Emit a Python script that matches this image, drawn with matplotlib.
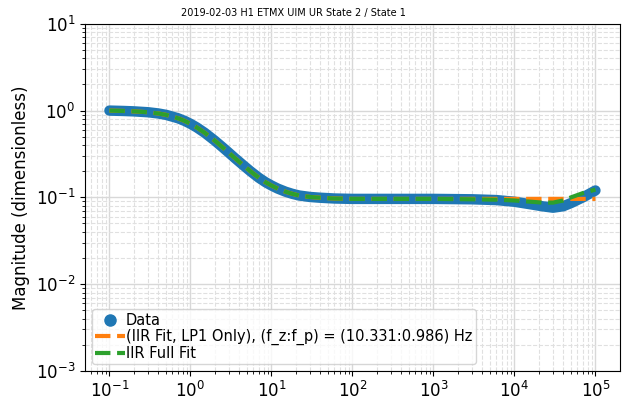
import numpy as np
import matplotlib
matplotlib.use("Agg")
import matplotlib.pyplot as plt

# values
freq = [0.1, 0.15, 0.2, 0.3, 0.4, 0.5, 0.7, 0.85, 1.0, 1.2, 1.5, 2.0, 2.5, 3.0,
        3.5, 4.5, 5.5, 7.0, 8.5, 10.0, 12.0, 15.0, 18.0, 22.0, 30.0, 40.0, 60.0,
        100.0, 1e3, 3e3, 6e3, 1e4, 1.6e4, 2.2e4, 3e4, 4e4, 5e4, 7e4, 1e5]
mag_data = [1.0, 0.99, 0.98, 0.957, 0.927, 0.893, 0.817, 0.76, 0.705, 0.639,
            0.555, 0.45, 0.377, 0.325, 0.286, 0.234, 0.2, 0.168, 0.149, 0.137,
            0.126, 0.116, 0.11, 0.105, 0.101, 0.099, 0.097, 0.096, 0.096, 0.095,
            0.093, 0.089, 0.083, 0.079, 0.076, 0.079, 0.086, 0.100, 0.120]
mag_lp1 = [1.0, 0.99, 0.98, 0.957, 0.927, 0.893, 0.817, 0.76, 0.705, 0.639,
           0.555, 0.45, 0.377, 0.325, 0.286, 0.234, 0.2, 0.168, 0.149, 0.137,
           0.126, 0.116, 0.11, 0.105, 0.101, 0.099, 0.097, 0.096, 0.096, 0.096,
           0.096, 0.096, 0.096, 0.096, 0.096, 0.096, 0.096, 0.096, 0.096]
mag_full = [1.0, 0.99, 0.98, 0.957, 0.927, 0.893, 0.817, 0.76, 0.705, 0.639,
            0.555, 0.45, 0.377, 0.325, 0.286, 0.234, 0.2, 0.168, 0.149, 0.137,
            0.126, 0.116, 0.11, 0.105, 0.101, 0.099, 0.097, 0.096, 0.096, 0.095,
            0.094, 0.092, 0.089, 0.087, 0.087, 0.092, 0.100, 0.112, 0.123]

title = "2019-02-03 H1 ETMX UIM UR State 2 / State 1"
fz, fp = 10.331, 0.986

fig = plt.figure(figsize=(6.26, 4.04), dpi=100)
ax = fig.add_axes([0.136, 0.082, 0.854, 0.859])

ax.loglog(freq, mag_data, '-', color='C0', lw=7.5, solid_capstyle='round')
data_handle, = ax.loglog([], [], 'o', color='C0', ms=8, label='Data')
ax.loglog(freq, mag_lp1, '--', color='C1', lw=3,
          label='(IIR Fit, LP1 Only), (f_z:f_p) = (%.3f:%.3f) Hz' % (fz, fp))
ax.loglog(freq, mag_full, '--', color='C2', lw=3, label='IIR Full Fit')

ax.set_ylim(1e-3, 10)
ax.grid(True, which='major', color='#d8d8d8', lw=1, ls='-')
ax.grid(True, which='minor', color='#e0e0e0', lw=0.8, ls='--')
ax.tick_params(labelsize=12)
ax.set_ylabel('Magnitude (dimensionless)', fontsize=12)

ax.legend(loc='lower left', fontsize=10.5, borderaxespad=0.45, borderpad=0.25,
          handletextpad=0.1, labelspacing=0.05)

fig.text(293 / 626, 1 - 12.7 / 404, title, fontsize=7, ha='center', va='center')

fig.savefig('out.png', dpi=100)
